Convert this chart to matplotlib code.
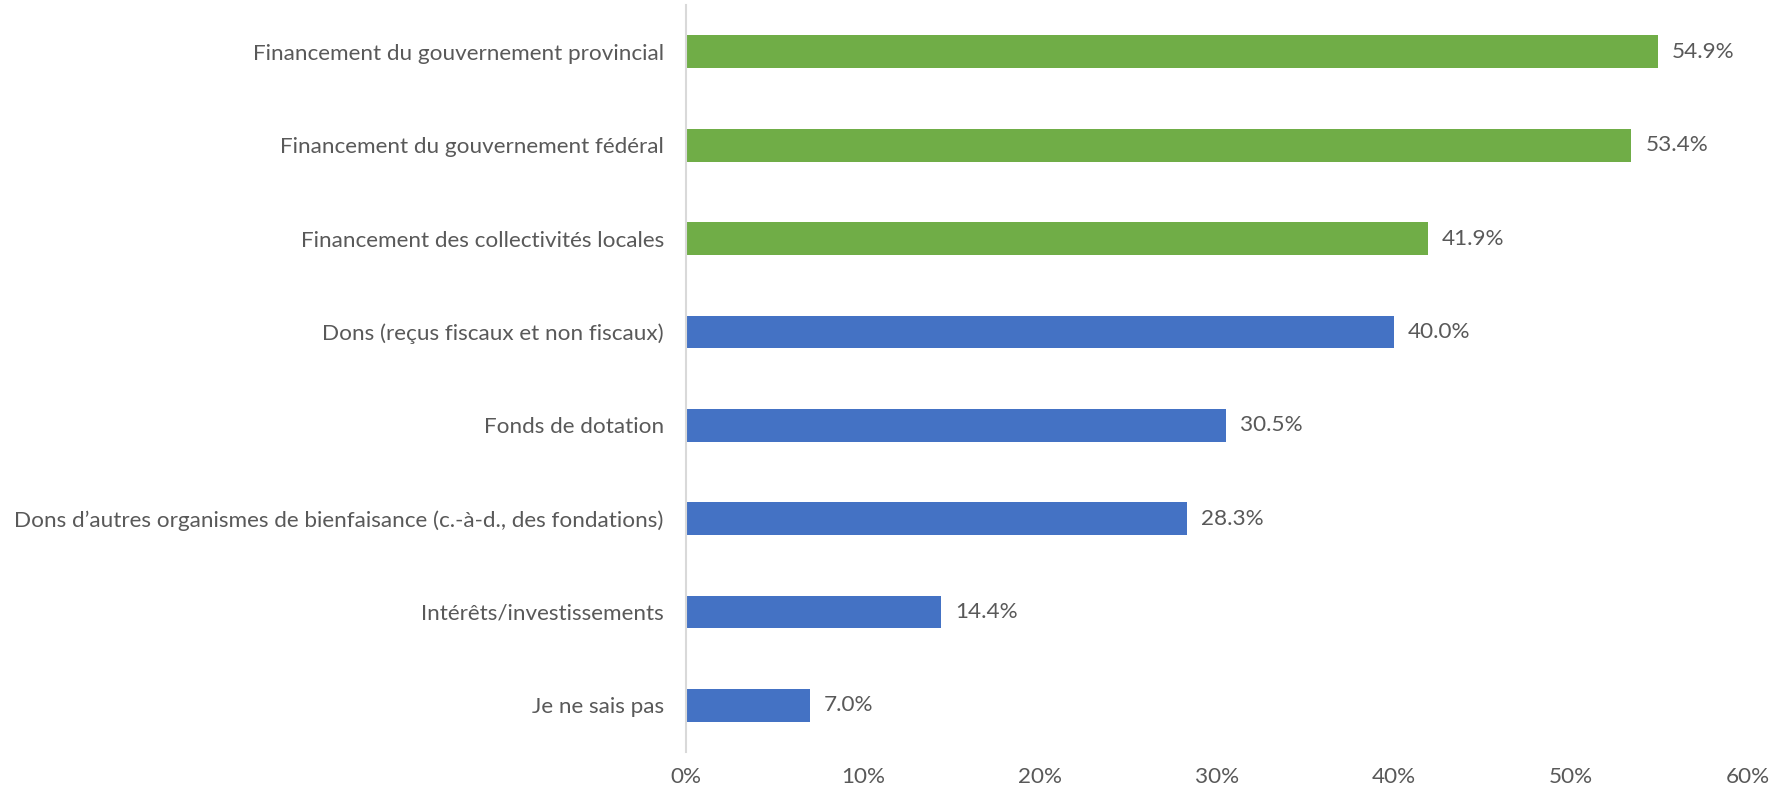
import matplotlib.pyplot as plt
from matplotlib.ticker import PercentFormatter

# Data
categories = [
    "Financement du gouvernement provincial",
    "Financement du gouvernement fédéral",
    "Financement des collectivités locales",
    "Dons (reçus fiscaux et non fiscaux)",
    "Fonds de dotation",
    "Dons d\u2019autres organismes de bienfaisance (c.-à-d., des fondations)",
    "Intérêts/investissements",
    "Je ne sais pas",
]
values = [54.9, 53.4, 41.9, 40.0, 30.5, 28.3, 14.4, 7.0]
groups = ["gov", "gov", "gov", "other", "other", "other", "other", "other"]
group_colors = {"gov": "#70AD47", "other": "#4472C4"}

plt.rcParams['font.family'] = ['Lato', 'DejaVu Sans']
text_color = "#595959"
fs = 16.2

fig = plt.figure(figsize=(17.79, 7.92), dpi=100)
ax = fig.add_axes([0.3856, 0.0505, 0.597, 0.943])

y = list(range(len(categories)))
colors = [group_colors[g] for g in groups]
bars = ax.barh(y, values, height=0.35, color=colors)

# value labels
for b, v in zip(bars, values):
    ax.text(b.get_width() + 0.8, b.get_y() + b.get_height() / 2, f"{v:.1f}%",
            va='center', ha='left', fontsize=fs, color=text_color)

ax.set_yticks(y)
ax.set_yticklabels(categories)
ax.set_ylim(len(categories) - 0.5, -0.5)
ax.set_xlim(0, 60)
ax.set_xticks(range(0, 61, 10))
ax.xaxis.set_major_formatter(PercentFormatter(decimals=0))

for s in ['top', 'right', 'bottom']:
    ax.spines[s].set_visible(False)
ax.spines['left'].set_color('#D9D9D9')
ax.spines['left'].set_linewidth(1.5)
ax.tick_params(axis='both', length=0, labelsize=fs, colors=text_color)
ax.tick_params(axis='y', pad=16)
ax.tick_params(axis='x', pad=11)

fig.savefig('out.png', dpi=100)
